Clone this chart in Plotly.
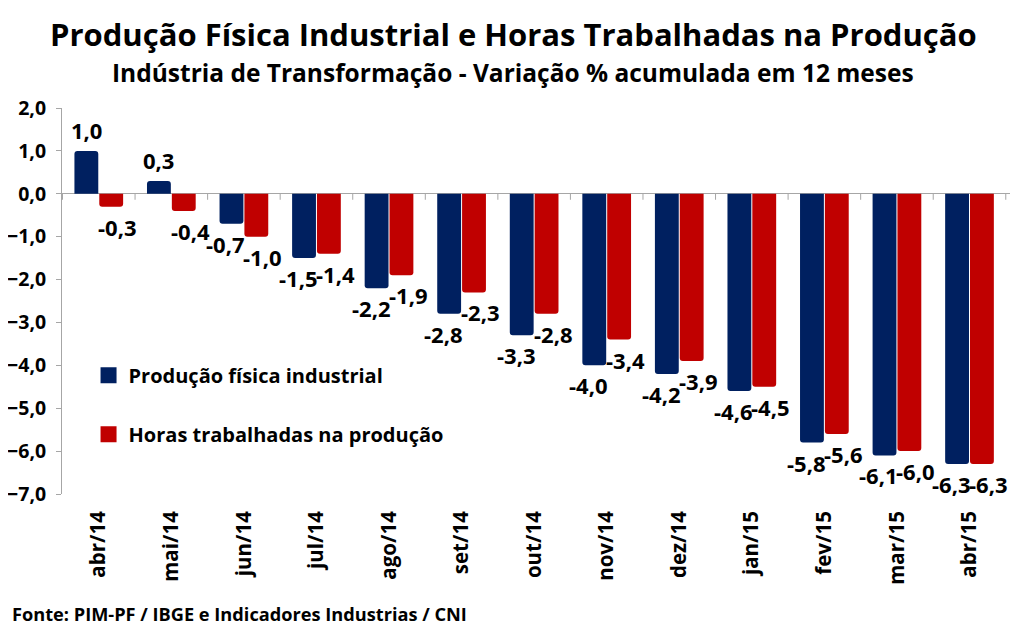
import plotly.graph_objects as go

categories = ["abr/14", "mai/14", "jun/14", "jul/14", "ago/14", "set/14", "out/14",
              "nov/14", "dez/14", "jan/15", "fev/15", "mar/15", "abr/15"]
producao = [1.0, 0.3, -0.7, -1.5, -2.2, -2.8, -3.3, -4.0, -4.2, -4.6, -5.8, -6.1, -6.3]
horas = [-0.3, -0.4, -1.0, -1.4, -1.9, -2.3, -2.8, -3.4, -3.9, -4.5, -5.6, -6.0, -6.3]
y_ticks = [2, 1, 0, -1, -2, -3, -4, -5, -6, -7]
series_names = ["Produção física industrial", "Horas trabalhadas na produção"]

BLUE = "#002060"
RED = "#C00000"
FONT = "Open Sans"
AXIS = "#A6A6A6"

ML, MR, MT, MB = 54, 22, 100, 151
PW = 1024 - ML - MR
PH = 637 - MT - MB

fig = go.Figure()
for name, vals, col, grp in ((series_names[0], producao, BLUE, "a"),
                             (series_names[1], horas, RED, "b")):
    fig.add_trace(go.Bar(x=categories, y=vals, name=name, showlegend=False,
                         marker=dict(color=col, cornerradius=3, line=dict(width=0)),
                         legendgroup=grp))
    # legend entry with a larger square swatch
    fig.add_trace(go.Scatter(x=[None], y=[None], mode="markers", name=name,
                             legendgroup=grp, showlegend=True,
                             marker=dict(symbol="square", size=17, color=col)))


def fmt(v):
    return f"{v:.1f}".replace(".", ",")


annotations = []
for series, xs in ((producao, -18), (horas, 19)):
    for c, v in zip(categories, series):
        annotations.append(dict(
            x=c, y=v, xref="x", yref="y", text=fmt(v), showarrow=False,
            xshift=(xs if v < 0 else -12.5), yshift=(4 if v >= 0 else -3),
            yanchor=("bottom" if v >= 0 else "top"),
            font=dict(family=FONT, size=22, color="black", weight="bold")))


def py(fig_y):
    return 1 + (MT - fig_y) / PH


annotations += [
    dict(text="Produção Física Industrial e Horas Trabalhadas na Produção",
         x=(505 - ML) / PW, y=py(26), xref="paper", yref="paper",
         xanchor="center", yanchor="middle", showarrow=False,
         font=dict(family=FONT, size=31, color="black", weight="bold")),
    dict(text="Indústria de Transformação - Variação % acumulada em 12 meses",
         x=(505 - ML) / PW, y=py(65), xref="paper", yref="paper",
         xanchor="center", yanchor="middle", showarrow=False,
         font=dict(family=FONT, size=24.5, color="black", weight="bold")),
    dict(text="Fonte: PIM-PF / IBGE e Indicadores Industrias / CNI",
         x=(2 - ML) / PW, y=py(606), xref="paper", yref="paper",
         xanchor="left", yanchor="middle", showarrow=False,
         font=dict(family=FONT, size=18.2, color="black", weight="bold")),
]

shapes = []
for i in range(len(categories) + 1):
    shapes.append(dict(type="line", xref="x", yref="y", x0=i - 0.5, x1=i - 0.5,
                       ysizemode="pixel", yanchor=0, y0=0, y1=-6,
                       line=dict(color=AXIS, width=1)))

fig.update_layout(
    width=1024, height=637,
    margin=dict(l=ML, r=MR, t=MT, b=MB, autoexpand=False),
    paper_bgcolor="white", plot_bgcolor="white",
    barmode="group", bargap=0.315, bargroupgap=0.04,
    separators=",.",
    font=dict(family=FONT, color="black"),
    showlegend=True,
    legend=dict(x=0.028, y=0.358, xanchor="left", yanchor="top",
                bgcolor="rgba(0,0,0,0)", traceorder="grouped", tracegroupgap=30,
                font=dict(family=FONT, size=20, color="black", weight="bold"),
                itemwidth=30, itemsizing="trace"),
    annotations=annotations,
    shapes=shapes,
)

fig.update_xaxes(showgrid=False, showline=False, ticks="", zeroline=False,
                 tickangle=-90, ticklabelstandoff=12, automargin=False,
                 tickfont=dict(family=FONT, size=20.5, color="black", weight="bold"))
fig.update_yaxes(range=[-7, 2], tickvals=y_ticks, tickformat=".1f",
                 showgrid=False, showline=True, linecolor=AXIS, linewidth=1,
                 ticks="outside", ticklen=5, tickcolor=AXIS,
                 zeroline=True, zerolinecolor=AXIS, zerolinewidth=1,
                 ticklabelstandoff=6, automargin=False,
                 tickfont=dict(family=FONT, size=19.5, color="black", weight="bold"))

fig.write_html("out.html")
